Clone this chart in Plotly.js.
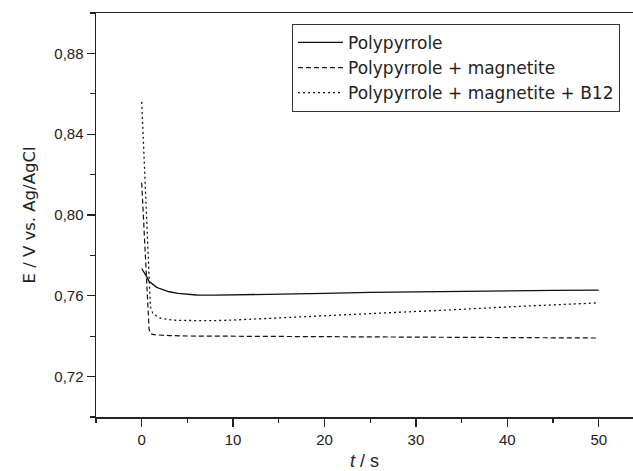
<!DOCTYPE html>
<html>
<head>
<meta charset="utf-8">
<script src="https://cdn.plot.ly/plotly-3.0.1.min.js"></script>
<style>html,body{margin:0;padding:0;background:#fff;}#chart{width:633px;height:471px;}</style>
</head>
<body>
<div id="chart"></div>
<script>
// Polypyrrole (solid)
const tPpy = [0, 0.3, 0.6, 0.8, 1.2, 1.6, 2, 2.5, 3, 4, 5, 6, 8, 10, 15, 20, 25, 30, 35, 40, 45, 50];
const ePpy = [0.7735, 0.7715, 0.7690, 0.7672, 0.7655, 0.7643, 0.7635, 0.7627, 0.7620, 0.7612, 0.7607, 0.7604, 0.7603, 0.7604, 0.7608, 0.7612, 0.7617, 0.7620, 0.7622, 0.7625, 0.7627, 0.7628];
// Polypyrrole + magnetite (dashed)
const tMag = [0, 0.2, 0.4, 0.6, 0.8, 0.9, 1.1, 1.5, 2, 3, 5, 10, 15, 20, 25, 30, 35, 40, 45, 50];
const eMag = [0.816, 0.797, 0.777, 0.758, 0.744, 0.7415, 0.7410, 0.7407, 0.7405, 0.7403, 0.7401, 0.7400, 0.7399, 0.7399, 0.7398, 0.7397, 0.7396, 0.7394, 0.7393, 0.7391];
// Polypyrrole + magnetite + B12 (dotted)
const tB12 = [0, 0.2, 0.4, 0.6, 0.8, 0.95, 1.2, 1.6, 2, 3, 4, 6, 8, 10, 15, 20, 25, 30, 35, 40, 45, 50];
const eB12 = [0.856, 0.834, 0.810, 0.786, 0.763, 0.7545, 0.7515, 0.7500, 0.7490, 0.7482, 0.7478, 0.7476, 0.7477, 0.7480, 0.7490, 0.7502, 0.7512, 0.7521, 0.7533, 0.7545, 0.7555, 0.7565];
const names = ["Polypyrrole", "Polypyrrole + magnetite", "Polypyrrole + magnetite + B12"];
const xTicks = [0, 10, 20, 30, 40, 50];
const yTicks = [0.72, 0.76, 0.80, 0.84, 0.88];

const lineCol = '#111';
const traces = [
  {x: tPpy, y: ePpy, name: names[0], mode: 'lines', line: {color: lineCol, width: 1.3}},
  {x: tMag, y: eMag, name: names[1], mode: 'lines', line: {color: lineCol, width: 1.2, dash: '5px,3px'}},
  {x: tB12, y: eB12, name: names[2], mode: 'lines', line: {color: lineCol, width: 1.3, dash: '2px,3px'}}
];
const fontFam = 'Liberation Sans, Arial, Helvetica, sans-serif';
const wideFam = 'DejaVu Sans, Liberation Sans, sans-serif';
const layout = {
  width: 633, height: 471,
  margin: {l: 96, r: 0, t: 13, b: 54},
  paper_bgcolor: '#fff', plot_bgcolor: '#fff',
  separators: ',.',
  font: {family: fontFam, color: '#222', size: 15},
  showlegend: true,
  legend: {
    x: 0.365, y: 0.973, xanchor: 'left', yanchor: 'top',
    bgcolor: '#fff', bordercolor: '#333', borderwidth: 1,
    font: {family: wideFam, size: 17, color: '#222'},
    itemwidth: 45, tracegroupgap: 0
  },
  xaxis: {
    range: [-5, 53.75], tickvals: xTicks, ticktext: xTicks.map(String),
    ticks: 'outside', ticklen: 8, tickwidth: 1.3, tickcolor: '#222',
    minor: {tickvals: [-5, 5, 15, 25, 35, 45], ticks: 'outside', ticklen: 4, tickwidth: 1.3, tickcolor: '#222'},
    showline: true, linecolor: '#222', linewidth: 1.5, mirror: true,
    showgrid: false, zeroline: false,
    tickfont: {size: 15},
    title: {text: '<i>t</i> / s', font: {size: 18}, standoff: 8}
  },
  yaxis: {
    range: [0.70, 0.90], tickvals: yTicks, tickformat: '.2f',
    ticks: 'outside', ticklen: 8, tickwidth: 1.3, tickcolor: '#222',
    minor: {tickvals: [0.70, 0.74, 0.78, 0.82, 0.86, 0.90], ticks: 'outside', ticklen: 5, tickwidth: 1.3, tickcolor: '#222'},
    showline: true, linecolor: '#222', linewidth: 1.5,
    showgrid: false, zeroline: false,
    tickfont: {size: 15},
    title: {text: 'E / V vs. Ag/AgCl', font: {family: wideFam, size: 16.5}, standoff: 14}
  }
};
Plotly.newPlot('chart', traces, layout, {displayModeBar: false, staticPlot: true});
</script>
</body>
</html>
